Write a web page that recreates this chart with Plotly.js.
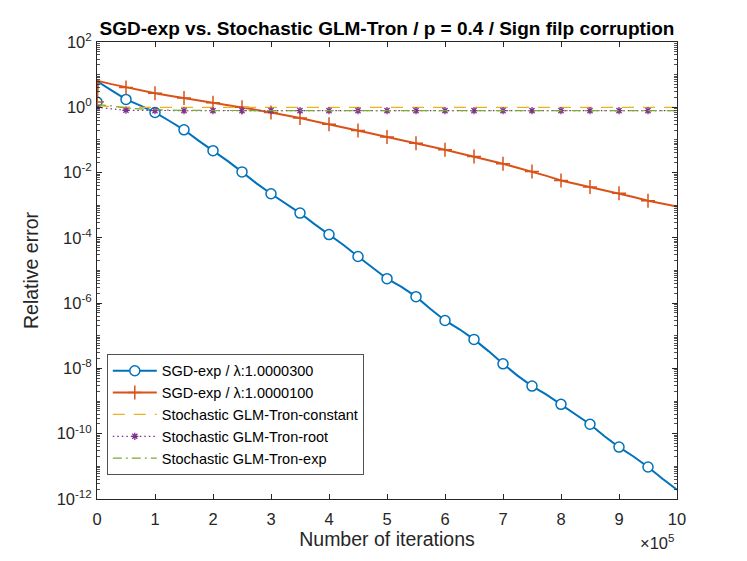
<!DOCTYPE html>
<html>
<head>
<meta charset="utf-8">
<script src="https://cdn.plot.ly/plotly-3.0.1.min.js"></script>
<style>html,body{margin:0;padding:0;background:#fff;}#chart{width:747px;height:561px;}</style>
</head>
<body>
<div id="chart"></div>
<script>
// ---- data ----
const iterations = [0, 1000, 25000, 50000, 75000, 100000, 125000, 150000, 175000, 200000, 225000, 250000, 275000, 300000, 325000, 350000, 375000, 400000, 425000, 450000, 475000, 500000, 525000, 550000, 575000, 600000, 625000, 650000, 675000, 700000, 725000, 750000, 775000, 800000, 825000, 850000, 875000, 900000, 925000, 950000, 975000, 1000000];
const sgdExp300 = [1.45, 6.17, 3.31, 1.74, 1.12, 0.692, 0.380, 0.204, 0.0955, 0.0468, 0.0229, 0.0105, 4.68e-3, 2.24e-3, 1.17e-3, 5.75e-4, 2.63e-4, 1.26e-4, 6.03e-5, 2.69e-5, 1.20e-5, 5.62e-6, 3.16e-6, 1.58e-6, 6.61e-7, 2.95e-7, 1.58e-7, 7.76e-8, 3.39e-8, 1.38e-8, 6.03e-9, 2.88e-9, 1.58e-9, 7.94e-10, 3.80e-10, 1.95e-10, 8.32e-11, 3.89e-11, 2.00e-11, 9.55e-12, 4.17e-12, 1.91e-12];
const sgdExp100 = [1.46, 6.46, 5.13, 4.07, 3.31, 2.69, 2.24, 1.91, 1.62, 1.38, 1.17, 1.00, 0.832, 0.692, 0.575, 0.468, 0.372, 0.302, 0.245, 0.195, 0.155, 0.123, 0.100, 0.0794, 0.0631, 0.0501, 0.0398, 0.0309, 0.0240, 0.0186, 0.0141, 0.0107, 7.94e-3, 5.75e-3, 4.57e-3, 3.63e-3, 2.95e-3, 2.34e-3, 1.78e-3, 1.38e-3, 1.12e-3, 9.12e-4];
const tronIter = [0, 25000, 50000, 75000, 100000, 150000, 200000, 250000, 300000, 350000, 400000, 450000, 500000, 550000, 600000, 650000, 700000, 750000, 800000, 850000, 900000, 950000, 1000000];
const tronConstant = [1.10, 1.04, 1.01, 1.00, 1.00, 1.00, 1.00, 1.00, 1.00, 1.00, 1.00, 1.00, 1.00, 1.00, 1.00, 1.00, 1.00, 1.00, 1.00, 1.00, 1.00, 1.00, 1.00];
const tronRoot = [1.00, 0.90, 0.81, 0.80, 0.79, 0.79, 0.79, 0.79, 0.79, 0.79, 0.79, 0.79, 0.79, 0.79, 0.79, 0.79, 0.79, 0.79, 0.79, 0.79, 0.79, 0.79, 0.79];
const tronExp = [1.20, 1.10, 0.95, 0.88, 0.84, 0.80, 0.79, 0.79, 0.79, 0.79, 0.79, 0.79, 0.79, 0.79, 0.79, 0.79, 0.79, 0.79, 0.79, 0.79, 0.79, 0.79, 0.79];
const seriesNames = ['SGD-exp / \u03bb:1.0000300', 'SGD-exp / \u03bb:1.0000100', 'Stochastic GLM-Tron-constant', 'Stochastic GLM-Tron-root', 'Stochastic GLM-Tron-exp'];
const xTickVals = [0, 100000, 200000, 300000, 400000, 500000, 600000, 700000, 800000, 900000, 1000000];
const xTickText = ['0', '1', '2', '3', '4', '5', '6', '7', '8', '9', '10'];
const yLabelExponents = [-12, -10, -8, -6, -4, -2, 0, 2];

// ---- styling ----
const C = {blue:'#0072BD', orange:'#D95319', yellow:'#EDB120', purple:'#7E2F8E', green:'#77AC30', axis:'#262626'};
const FONT = 'Liberation Sans, Arial, Helvetica, sans-serif';

function markerPick(xs, ys) {
  const mx = [], my = [];
  xs.forEach((x, i) => { if (x % 50000 === 0 && x < 1000000) { mx.push(x); my.push(ys[i]); } });
  return {x: mx, y: my};
}

const bM = markerPick(iterations, sgdExp300);
const oM = markerPick(iterations, sgdExp100);
const rM = markerPick(tronIter, tronRoot);

const blueMarker = {symbol: 'circle', size: 10, color: '#fff', line: {color: C.blue, width: 1.5}};
const orangeMarker = {symbol: 'cross-thin', size: 10, color: C.orange, line: {color: C.orange, width: 1.5}};
const purpleMarker = {symbol: 'asterisk', size: 6, color: C.purple, line: {color: C.purple, width: 1.3}};

const traces = [
  {x: iterations, y: sgdExp300, mode: 'lines', line: {color: C.blue, width: 2}, showlegend: false},
  {x: bM.x, y: bM.y, mode: 'markers', marker: blueMarker, showlegend: false},
  {x: iterations, y: sgdExp100, mode: 'lines', line: {color: C.orange, width: 2}, showlegend: false},
  {x: oM.x, y: oM.y, mode: 'markers', marker: orangeMarker, showlegend: false},
  {x: tronIter, y: tronConstant, mode: 'lines', line: {color: C.yellow, width: 1.2, dash: '12px,9px'}, showlegend: false},
  {x: tronIter, y: tronRoot, mode: 'lines', line: {color: C.purple, width: 1.2, dash: '1.5px,3px'}, showlegend: false},
  {x: rM.x, y: rM.y, mode: 'markers', marker: purpleMarker, showlegend: false},
  {x: tronIter, y: tronExp, mode: 'lines', line: {color: C.green, width: 1.2, dash: '9px,4px,2px,4px'}, showlegend: false},
  // legend entries
  {x: [null], y: [null], name: seriesNames[0], mode: 'lines+markers', line: {color: C.blue, width: 2}, marker: blueMarker},
  {x: [null], y: [null], name: seriesNames[1], mode: 'lines+markers', line: {color: C.orange, width: 2}, marker: orangeMarker},
  {x: [null], y: [null], name: seriesNames[2], mode: 'lines', line: {color: C.yellow, width: 1.2, dash: '12px,9px'}},
  {x: [null], y: [null], name: seriesNames[3], mode: 'lines+markers', line: {color: C.purple, width: 1.2, dash: '1.5px,3px'}, marker: purpleMarker},
  {x: [null], y: [null], name: seriesNames[4], mode: 'lines', line: {color: C.green, width: 1.2, dash: '9px,4px,2px,4px'}}
];

const yTickVals = yLabelExponents.map(e => Math.pow(10, e));
const yTickText = yLabelExponents.map(e => '10<sup>' + e + '</sup>');
const yMinor = [];
for (let e = -12; e < 2; e++) {
  if (e % 2 !== 0) yMinor.push(Math.pow(10, e));
  for (let m = 2; m <= 9; m++) yMinor.push(m * Math.pow(10, e));
}

const layout = {
  width: 747, height: 561,
  margin: {l: 97, r: 70, t: 42, b: 62},
  paper_bgcolor: '#fff', plot_bgcolor: '#fff',
  font: {family: FONT, color: C.axis},
  title: {text: '<b>SGD-exp vs. Stochastic GLM-Tron / p = 0.4 / Sign filp corruption</b>', font: {family: FONT, size: 19, color: '#000'}, x: 0.5, xref: 'paper', xanchor: 'center', y: 1 - 28/561, yref: 'container', yanchor: 'middle'},
  xaxis: {
    range: [0, 1000000], tickmode: 'array', tickvals: xTickVals, ticktext: xTickText,
    ticks: 'inside', ticklen: 5, tickwidth: 1, tickcolor: C.axis, mirror: 'ticks',
    showline: true, linecolor: C.axis, linewidth: 1, showgrid: false, zeroline: false,
    tickfont: {family: FONT, size: 16.5, color: C.axis}, ticklabelstandoff: 5,
    title: {text: 'Number of iterations', font: {family: FONT, size: 19.5, color: C.axis}, standoff: 5}
  },
  yaxis: {
    type: 'log', range: [-12, 2], tickmode: 'array', tickvals: yTickVals, ticktext: yTickText,
    ticks: 'inside', ticklen: 5, tickwidth: 1, tickcolor: C.axis, mirror: 'ticks',
    showline: true, linecolor: C.axis, linewidth: 1, showgrid: false, zeroline: false,
    tickfont: {family: FONT, size: 16.5, color: C.axis}, ticklabelstandoff: 1,
    minor: {tickmode: 'array', tickvals: yMinor, ticks: 'inside', ticklen: 3, tickwidth: 0.8, tickcolor: C.axis, showgrid: false},
    title: {text: 'Relative error', font: {family: FONT, size: 19.5, color: C.axis}, standoff: 12}
  },
  legend: {
    x: 10/580, y: (499-475)/457, xanchor: 'left', yanchor: 'bottom',
    bgcolor: '#fff', bordercolor: C.axis, borderwidth: 0.8,
    font: {family: FONT, size: 14.5, color: '#000'}, itemwidth: 44, tracegroupgap: 0
  },
  annotations: [{text: '\u00d710<sup>5</sup>', xref: 'paper', yref: 'paper', x: 998/1000, y: -(542-499)/457, xanchor: 'right', yanchor: 'middle', showarrow: false, font: {family: FONT, size: 16.5, color: C.axis}}],
  showlegend: true
};

Plotly.newPlot('chart', traces, layout, {displayModeBar: false, staticPlot: true});
</script>
</body>
</html>
